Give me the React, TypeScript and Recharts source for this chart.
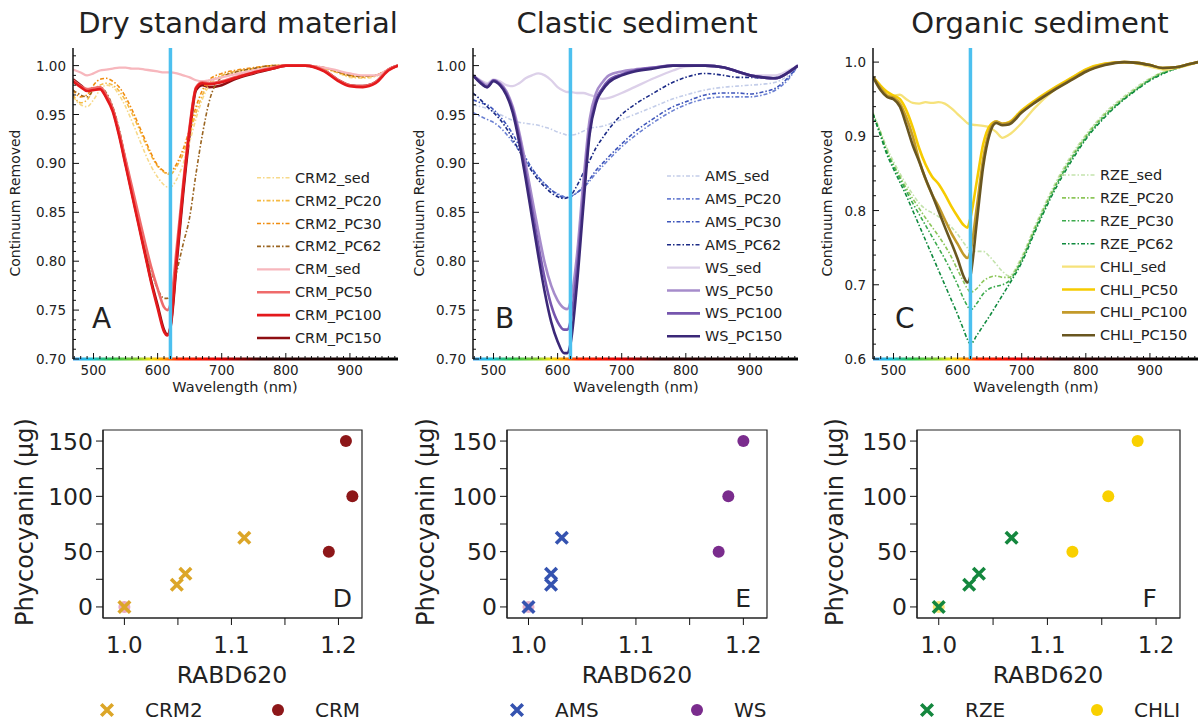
import React from 'react';
import {
  LineChart,
  Line,
  XAxis,
  YAxis,
  ReferenceLine,
  ReferenceArea,
  ScatterChart,
  Scatter,
  Cell,
} from 'recharts';

const FONT = '"DejaVu Sans", Verdana, sans-serif';
const INK = '#222';
const DASH = '4 2 1.5 2';

// wavelength grid (nm) shared by every spectrum
const WAVELENGTH = [468, 480, 490, 500, 510, 520, 530, 540, 550, 560, 570, 580, 590, 600, 610, 615, 620, 630, 640, 650, 660, 670, 680, 700, 720, 750, 780, 800, 830, 860, 880, 900, 920, 940, 960, 975];

// A - dry standard material
const CRM2_SED = [0.968, 0.960, 0.958, 0.965, 0.975, 0.980, 0.978, 0.970, 0.958, 0.943, 0.927, 0.911, 0.897, 0.886, 0.878, 0.876, 0.876, 0.884, 0.900, 0.922, 0.946, 0.966, 0.979, 0.989, 0.993, 0.997, 1.000, 1.000, 1.000, 0.997, 0.993, 0.988, 0.987, 0.989, 0.995, 1.000];
const CRM2_PC20 = [0.970, 0.962, 0.965, 0.975, 0.980, 0.982, 0.980, 0.974, 0.964, 0.951, 0.937, 0.922, 0.908, 0.897, 0.891, 0.889, 0.889, 0.897, 0.910, 0.930, 0.952, 0.970, 0.982, 0.990, 0.994, 0.997, 1.000, 1.000, 1.000, 0.997, 0.993, 0.989, 0.988, 0.990, 0.996, 1.000];
const CRM2_PC30 = [0.975, 0.968, 0.970, 0.980, 0.986, 0.987, 0.984, 0.978, 0.968, 0.955, 0.940, 0.925, 0.910, 0.898, 0.892, 0.890, 0.891, 0.900, 0.915, 0.935, 0.958, 0.975, 0.985, 0.992, 0.995, 0.998, 1.000, 1.000, 1.000, 0.998, 0.994, 0.990, 0.989, 0.990, 0.996, 1.000];
const CRM2_PC62 = [0.975, 0.970, 0.968, 0.975, 0.978, 0.972, 0.958, 0.935, 0.905, 0.875, 0.845, 0.815, 0.790, 0.772, 0.762, 0.762, 0.765, 0.790, 0.818, 0.845, 0.890, 0.930, 0.962, 0.988, 0.993, 0.997, 1.000, 1.000, 1.000, 0.998, 0.994, 0.990, 0.989, 0.990, 0.996, 1.000];
const CRM_SED = [0.996, 0.993, 0.990, 0.992, 0.995, 0.996, 0.997, 0.998, 0.998, 0.997, 0.997, 0.996, 0.995, 0.994, 0.993, 0.993, 0.993, 0.992, 0.990, 0.988, 0.985, 0.984, 0.985, 0.988, 0.991, 0.995, 0.998, 1.000, 1.000, 0.998, 0.995, 0.992, 0.990, 0.990, 0.996, 1.000];
const CRM_PC50 = [0.985, 0.979, 0.976, 0.977, 0.978, 0.970, 0.956, 0.932, 0.904, 0.876, 0.848, 0.820, 0.794, 0.772, 0.753, 0.750, 0.756, 0.815, 0.880, 0.938, 0.978, 0.983, 0.982, 0.984, 0.988, 0.993, 0.998, 1.000, 1.000, 0.995, 0.986, 0.980, 0.979, 0.983, 0.996, 1.000];
const CRM_PC100 = [0.984, 0.978, 0.974, 0.975, 0.976, 0.967, 0.953, 0.928, 0.898, 0.868, 0.838, 0.808, 0.778, 0.752, 0.728, 0.724, 0.733, 0.805, 0.875, 0.935, 0.977, 0.982, 0.981, 0.983, 0.987, 0.993, 0.997, 1.000, 1.000, 0.994, 0.985, 0.979, 0.978, 0.982, 0.995, 1.000];
const CRM_PC150 = [0.986, 0.980, 0.975, 0.976, 0.977, 0.968, 0.955, 0.930, 0.900, 0.870, 0.840, 0.810, 0.780, 0.755, 0.730, 0.725, 0.732, 0.800, 0.870, 0.930, 0.975, 0.980, 0.978, 0.980, 0.986, 0.992, 0.997, 1.000, 1.000, 0.995, 0.986, 0.980, 0.979, 0.983, 0.996, 1.000];

// B - clastic sediment
const AMS_SED = [0.960, 0.958, 0.956, 0.953, 0.950, 0.947, 0.944, 0.942, 0.941, 0.940, 0.939, 0.937, 0.935, 0.932, 0.930, 0.929, 0.929, 0.930, 0.933, 0.936, 0.937, 0.938, 0.940, 0.945, 0.950, 0.958, 0.966, 0.970, 0.975, 0.978, 0.979, 0.980, 0.981, 0.983, 0.990, 1.000];
const AMS_PC20 = [0.952, 0.948, 0.945, 0.942, 0.937, 0.930, 0.922, 0.913, 0.903, 0.894, 0.886, 0.879, 0.873, 0.869, 0.866, 0.865, 0.866, 0.870, 0.875, 0.882, 0.890, 0.897, 0.904, 0.917, 0.928, 0.942, 0.954, 0.960, 0.966, 0.968, 0.968, 0.968, 0.970, 0.975, 0.986, 1.000];
const AMS_PC30 = [0.965, 0.962, 0.960, 0.955, 0.948, 0.940, 0.930, 0.918, 0.906, 0.895, 0.886, 0.879, 0.873, 0.868, 0.865, 0.865, 0.866, 0.870, 0.876, 0.884, 0.893, 0.900, 0.907, 0.920, 0.932, 0.946, 0.958, 0.963, 0.970, 0.972, 0.972, 0.971, 0.973, 0.977, 0.988, 1.000];
const AMS_PC62 = [0.972, 0.965, 0.958, 0.952, 0.945, 0.936, 0.925, 0.913, 0.902, 0.892, 0.883, 0.876, 0.870, 0.866, 0.864, 0.865, 0.867, 0.877, 0.890, 0.903, 0.916, 0.926, 0.935, 0.950, 0.960, 0.972, 0.983, 0.988, 0.992, 0.990, 0.988, 0.988, 0.987, 0.988, 0.994, 1.000];
const WS_SED = [0.990, 0.985, 0.982, 0.986, 0.984, 0.980, 0.979, 0.982, 0.987, 0.990, 0.992, 0.990, 0.985, 0.978, 0.974, 0.973, 0.973, 0.972, 0.972, 0.970, 0.968, 0.966, 0.967, 0.972, 0.978, 0.987, 0.995, 0.999, 1.000, 0.998, 0.994, 0.990, 0.990, 0.990, 0.995, 1.000];
const WS_PC50 = [0.990, 0.984, 0.980, 0.985, 0.982, 0.974, 0.958, 0.932, 0.900, 0.865, 0.830, 0.798, 0.775, 0.760, 0.752, 0.751, 0.758, 0.805, 0.880, 0.945, 0.972, 0.983, 0.990, 0.994, 0.996, 0.998, 1.000, 1.000, 1.000, 0.998, 0.994, 0.990, 0.988, 0.987, 0.993, 1.000];
const WS_PC100 = [0.990, 0.983, 0.978, 0.985, 0.981, 0.972, 0.955, 0.927, 0.892, 0.854, 0.816, 0.782, 0.755, 0.738, 0.730, 0.730, 0.738, 0.790, 0.865, 0.935, 0.965, 0.977, 0.985, 0.991, 0.995, 0.998, 1.000, 1.000, 1.000, 0.998, 0.994, 0.990, 0.988, 0.987, 0.993, 1.000];
const WS_PC150 = [0.990, 0.982, 0.978, 0.984, 0.980, 0.970, 0.952, 0.922, 0.885, 0.845, 0.805, 0.768, 0.738, 0.718, 0.706, 0.706, 0.715, 0.775, 0.855, 0.930, 0.962, 0.975, 0.983, 0.990, 0.994, 0.997, 1.000, 1.000, 1.000, 0.998, 0.994, 0.990, 0.988, 0.987, 0.993, 1.000];

// C - organic sediment
const RZE_SED = [0.932, 0.906, 0.884, 0.866, 0.850, 0.835, 0.822, 0.810, 0.802, 0.797, 0.792, 0.786, 0.778, 0.768, 0.756, 0.750, 0.745, 0.745, 0.745, 0.738, 0.728, 0.718, 0.712, 0.738, 0.778, 0.833, 0.878, 0.902, 0.932, 0.954, 0.967, 0.978, 0.987, 0.993, 0.997, 1.000];
const RZE_PC20 = [0.930, 0.904, 0.880, 0.862, 0.846, 0.830, 0.816, 0.803, 0.790, 0.778, 0.766, 0.753, 0.738, 0.720, 0.703, 0.695, 0.690, 0.695, 0.705, 0.710, 0.712, 0.710, 0.710, 0.735, 0.775, 0.830, 0.875, 0.900, 0.930, 0.952, 0.965, 0.977, 0.986, 0.992, 0.997, 1.000];
const RZE_PC30 = [0.930, 0.902, 0.878, 0.860, 0.843, 0.826, 0.810, 0.795, 0.780, 0.765, 0.750, 0.735, 0.718, 0.700, 0.680, 0.672, 0.666, 0.675, 0.688, 0.695, 0.698, 0.700, 0.705, 0.733, 0.773, 0.828, 0.873, 0.898, 0.928, 0.951, 0.964, 0.976, 0.985, 0.991, 0.996, 1.000];
const RZE_PC62 = [0.930, 0.900, 0.875, 0.856, 0.838, 0.820, 0.800, 0.780, 0.760, 0.740, 0.720, 0.700, 0.680, 0.660, 0.638, 0.627, 0.620, 0.632, 0.645, 0.658, 0.672, 0.686, 0.700, 0.730, 0.770, 0.825, 0.870, 0.896, 0.926, 0.950, 0.963, 0.975, 0.984, 0.991, 0.996, 1.000];
const CHLI_SED = [0.980, 0.968, 0.958, 0.955, 0.956, 0.950, 0.945, 0.944, 0.946, 0.945, 0.946, 0.944, 0.938, 0.930, 0.922, 0.918, 0.916, 0.915, 0.914, 0.912, 0.906, 0.898, 0.902, 0.918, 0.938, 0.962, 0.980, 0.990, 0.998, 1.000, 0.998, 0.994, 0.990, 0.992, 0.996, 1.000];
const CHLI_PC50 = [0.980, 0.968, 0.960, 0.955, 0.950, 0.935, 0.912, 0.884, 0.862, 0.846, 0.836, 0.822, 0.806, 0.792, 0.780, 0.777, 0.790, 0.840, 0.890, 0.914, 0.920, 0.917, 0.919, 0.935, 0.948, 0.965, 0.980, 0.990, 0.998, 1.000, 0.999, 0.996, 0.992, 0.993, 0.997, 1.000];
const CHLI_PC100 = [0.980, 0.965, 0.955, 0.952, 0.944, 0.925, 0.900, 0.868, 0.842, 0.822, 0.806, 0.788, 0.770, 0.755, 0.740, 0.736, 0.745, 0.805, 0.870, 0.908, 0.920, 0.917, 0.918, 0.933, 0.946, 0.963, 0.978, 0.988, 0.997, 1.000, 0.999, 0.996, 0.992, 0.993, 0.997, 1.000];
const CHLI_PC150 = [0.980, 0.962, 0.953, 0.950, 0.940, 0.915, 0.888, 0.866, 0.843, 0.822, 0.800, 0.778, 0.757, 0.735, 0.710, 0.703, 0.712, 0.785, 0.860, 0.903, 0.918, 0.915, 0.916, 0.932, 0.945, 0.962, 0.977, 0.987, 0.996, 1.000, 0.999, 0.996, 0.992, 0.993, 0.997, 1.000];

// D/E/F - RABD620 vs added phycocyanin
const PC_LOW = [0, 20, 30, 62.5];
const PC_HIGH = [0, 50, 100, 150];
const CRM2_RABD = [1.0, 1.049, 1.057, 1.112];
const CRM_RABD = [1.0, 1.191, 1.213, 1.207];
const AMS_RABD = [1.0, 1.021, 1.021, 1.031];
const WS_RABD = [1.0, 1.177, 1.186, 1.2];
const RZE_RABD = [1.0, 1.028, 1.037, 1.067];
const CHLI_RABD = [1.0, 1.123, 1.156, 1.183];

type Spec = { name: string; values: number[]; color: string; width: number; dash?: boolean; z?: number };

const SERIES_A: Spec[] = [
  { name: 'CRM2_sed', values: CRM2_SED, color: '#f7d98a', width: 1.6, dash: true },
  { name: 'CRM2_PC20', values: CRM2_PC20, color: '#f5b942', width: 1.6, dash: true },
  { name: 'CRM2_PC30', values: CRM2_PC30, color: '#f08c0f', width: 1.6, dash: true },
  { name: 'CRM2_PC62', values: CRM2_PC62, color: '#9a6420', width: 1.6, dash: true },
  { name: 'CRM_sed', values: CRM_SED, color: '#f7b7bd', width: 2.3 },
  { name: 'CRM_PC50', values: CRM_PC50, color: '#ef6b6b', width: 2.6 },
  { name: 'CRM_PC100', values: CRM_PC100, color: '#e4191c', width: 2.6 },
  { name: 'CRM_PC150', values: CRM_PC150, color: '#8e0f12', width: 2.6, z: -1 },
];
const SERIES_B: Spec[] = [
  { name: 'AMS_sed', values: AMS_SED, color: '#c3cde9', width: 1.6, dash: true },
  { name: 'AMS_PC20', values: AMS_PC20, color: '#6b80d2', width: 1.6, dash: true },
  { name: 'AMS_PC30', values: AMS_PC30, color: '#3f56bb', width: 1.6, dash: true },
  { name: 'AMS_PC62', values: AMS_PC62, color: '#1b2a86', width: 1.6, dash: true },
  { name: 'WS_sed', values: WS_SED, color: '#dcd0e9', width: 2.3 },
  { name: 'WS_PC50', values: WS_PC50, color: '#a68ccb', width: 2.6 },
  { name: 'WS_PC100', values: WS_PC100, color: '#7656ae', width: 2.6 },
  { name: 'WS_PC150', values: WS_PC150, color: '#3b2878', width: 2.6 },
];
const SERIES_C: Spec[] = [
  { name: 'RZE_sed', values: RZE_SED, color: '#c4e3ad', width: 1.6, dash: true },
  { name: 'RZE_PC20', values: RZE_PC20, color: '#8dc65a', width: 1.6, dash: true },
  { name: 'RZE_PC30', values: RZE_PC30, color: '#3caa4d', width: 1.6, dash: true },
  { name: 'RZE_PC62', values: RZE_PC62, color: '#0f8a3e', width: 1.6, dash: true },
  { name: 'CHLI_sed', values: CHLI_SED, color: '#f6e27a', width: 2.3 },
  { name: 'CHLI_PC50', values: CHLI_PC50, color: '#f6cb00', width: 2.6 },
  { name: 'CHLI_PC100', values: CHLI_PC100, color: '#c39a2a', width: 2.6 },
  { name: 'CHLI_PC150', values: CHLI_PC150, color: '#695620', width: 2.6 },
];

const makeTicks = (from: number, to: number, step: number) => {
  const out: number[] = [];
  for (let v = from; v <= to + 1e-9; v += step) out.push(Math.round(v * 1000) / 1000);
  return out;
};
const isIn = (v: number, list: number[]) => list.some(m => Math.abs(m - v) < 1e-6);

// top row layout
const SW = 410;
const SH = 350;
const S_MARGIN = { top: 8, right: 12, left: 0, bottom: 0 };
const WL_DOMAIN: [number, number] = [468, 975];
const WL_MAJOR = [500, 600, 700, 800, 900];
const WL_TICKS = makeTicks(470, 970, 10);

function SpectrumPanel(props: {
  id: string;
  left: number;
  series: Spec[];
  yDomain: [number, number];
  yStep: number;
  yMajorStep: number;
  digits: number;
}) {
  const { id, left, series, yDomain, yStep, yMajorStep, digits } = props;
  const data = WAVELENGTH.map((w, i) => {
    const row: Record<string, number> = { wl: w };
    series.forEach(s => {
      row[s.name] = s.values[i];
    });
    return row;
  });
  const drawn = series
    .map((s, i) => ({ s, i }))
    .sort((a, b) => (a.s.z ?? 0) - (b.s.z ?? 0) || a.i - b.i)
    .map(d => d.s);
  const yTicks = makeTicks(yDomain[0], yDomain[1], yStep);
  const yMajor = makeTicks(yDomain[0], 1.0, yMajorStep);
  const strip = ((yDomain[1] - yDomain[0]) / 311) * 1.6;

  const bottomTick = (p: any) => {
    const v = p.payload.value;
    const major = isIn(v, WL_MAJOR);
    return (
      <g>
        <line x1={p.x} x2={p.x} y1={p.y} y2={p.y - (major ? 6 : 3)} stroke="#111" strokeWidth={1} />
        {major && (
          <text x={p.x} y={p.y + 16} textAnchor="middle" fontSize={13.5} fill={INK} fontFamily={FONT}>
            {v}
          </text>
        )}
      </g>
    );
  };
  const topTick = (p: any) => {
    const major = isIn(p.payload.value, WL_MAJOR);
    return <line x1={p.x} x2={p.x} y1={p.y} y2={p.y + (major ? 6 : 3)} stroke="#111" strokeWidth={1} />;
  };
  const leftTick = (p: any) => {
    const v = p.payload.value;
    const major = isIn(v, yMajor);
    return (
      <g>
        <line x1={p.x} x2={p.x + (major ? 6 : 3)} y1={p.y} y2={p.y} stroke="#111" strokeWidth={1} />
        {major && (
          <text x={p.x - 7} y={p.y + 5} textAnchor="end" fontSize={13.5} fill={INK} fontFamily={FONT}>
            {v.toFixed(digits)}
          </text>
        )}
      </g>
    );
  };
  const rightTick = (p: any) => {
    const major = isIn(p.payload.value, yMajor);
    return <line x1={p.x} x2={p.x - (major ? 6 : 3)} y1={p.y} y2={p.y} stroke="#111" strokeWidth={1} />;
  };

  return (
    <div style={{ position: 'absolute', left, top: 40, width: SW, height: SH }}>
      <LineChart width={SW} height={SH} data={data} margin={S_MARGIN}>
        <defs>
          <linearGradient id={`spec-${id}`} x1="0" x2="1" y1="0" y2="0">
            <stop offset="0" stopColor="#3aa0f0" />
            <stop offset="0.05" stopColor="#20c0e0" />
            <stop offset="0.12" stopColor="#2fbf4a" />
            <stop offset="0.2" stopColor="#8fd030" />
            <stop offset="0.24" stopColor="#f4e010" />
            <stop offset="0.28" stopColor="#ff9a00" />
            <stop offset="0.32" stopColor="#ff2a00" />
            <stop offset="0.45" stopColor="#e00000" />
            <stop offset="0.58" stopColor="#300000" />
            <stop offset="1" stopColor="#000" />
          </linearGradient>
        </defs>
        <XAxis
          xAxisId="b"
          dataKey="wl"
          type="number"
          domain={WL_DOMAIN}
          allowDataOverflow
          ticks={WL_TICKS}
          interval={0}
          tickSize={0}
          tickMargin={0}
          tickLine={false}
          axisLine={false}
          height={31}
          tick={bottomTick}
        />
        <XAxis
          xAxisId="t"
          orientation="top"
          type="number"
          domain={WL_DOMAIN}
          allowDataOverflow
          ticks={WL_TICKS}
          interval={0}
          tickSize={0}
          tickMargin={0}
          tickLine={false}
          axisLine={{ stroke: '#111', strokeWidth: 1.5 }}
          height={0}
          tick={topTick}
        />
        <YAxis
          yAxisId="l"
          type="number"
          domain={yDomain}
          allowDataOverflow
          ticks={yTicks}
          interval={0}
          tickSize={0}
          tickMargin={0}
          tickLine={false}
          axisLine={{ stroke: '#111', strokeWidth: 1.5 }}
          width={73}
          tick={leftTick}
        />
        <YAxis
          yAxisId="r"
          orientation="right"
          type="number"
          domain={yDomain}
          allowDataOverflow
          ticks={yTicks}
          interval={0}
          tickSize={0}
          tickMargin={0}
          tickLine={false}
          axisLine={{ stroke: '#111', strokeWidth: 1.5 }}
          width={0}
          tick={rightTick}
        />
        {drawn.map(s => (
          <Line
            key={s.name}
            xAxisId="b"
            yAxisId="l"
            type="monotone"
            dataKey={s.name}
            stroke={s.color}
            strokeWidth={s.width}
            strokeDasharray={s.dash ? DASH : undefined}
            dot={false}
            isAnimationActive={false}
          />
        ))}
        <ReferenceLine xAxisId="b" yAxisId="l" x={620} stroke="#4cc0ef" strokeWidth={3.5} />
        <ReferenceArea
          xAxisId="b"
          yAxisId="l"
          x1={WL_DOMAIN[0]}
          x2={WL_DOMAIN[1]}
          y1={yDomain[0] - strip}
          y2={yDomain[0] + strip}
          ifOverflow="visible"
          fill={`url(#spec-${id})`}
          fillOpacity={1}
          stroke="none"
        />
      </LineChart>
    </div>
  );
}

// bottom row layout
const PH = 250;
const P_DOMAIN_X: [number, number] = [0.98, 1.222];
const P_DOMAIN_Y: [number, number] = [-10, 160];
const P_TICKS_X = [1.0, 1.05, 1.1, 1.15, 1.2];
const P_MAJOR_X = [1.0, 1.1, 1.2];
const P_TICKS_Y = [0, 25, 50, 75, 100, 125, 150];
const P_MAJOR_Y = [0, 50, 100, 150];

const XMark = (p: any) => {
  const r = 4.5;
  const { cx, cy, fill } = p;
  return (
    <path
      d={`M${cx - r},${cy - r}L${cx + r},${cy + r}M${cx - r},${cy + r}L${cx + r},${cy - r}`}
      stroke={fill}
      strokeWidth={3.6}
      strokeLinecap="square"
    />
  );
};
const Dot = (p: any) => <circle cx={p.cx} cy={p.cy} r={6} fill={p.fill} />;

function RabdPanel(props: {
  left: number;
  width: number;
  xRabd: number[];
  xColor: string;
  cRabd: number[];
  cColor: string;
  sedColor: string;
}) {
  const { left, width, xRabd, xColor, cRabd, cColor, sedColor } = props;
  const crosses = xRabd.map((x, i) => ({ x, y: PC_LOW[i] }));
  const dots = cRabd.map((x, i) => ({ x, y: PC_HIGH[i] }));

  const bottomTick = (p: any) => {
    const v = p.payload.value;
    return (
      <g>
        <line x1={p.x} x2={p.x} y1={p.y} y2={p.y + 7} stroke="#111" strokeWidth={1} />
        {isIn(v, P_MAJOR_X) && (
          <text x={p.x} y={p.y + 35} textAnchor="middle" fontSize={23} fill={INK} fontFamily={FONT}>
            {v.toFixed(1)}
          </text>
        )}
      </g>
    );
  };
  const leftTick = (p: any) => {
    const v = p.payload.value;
    return (
      <g>
        <line x1={p.x} x2={p.x - 7} y1={p.y} y2={p.y} stroke="#111" strokeWidth={1} />
        {isIn(v, P_MAJOR_Y) && (
          <text x={p.x - 10} y={p.y + 8.5} textAnchor="end" fontSize={23.5} fill={INK} fontFamily={FONT}>
            {v}
          </text>
        )}
      </g>
    );
  };

  return (
    <div style={{ position: 'absolute', left, top: 420, width, height: PH }}>
      <ScatterChart width={width} height={PH} margin={{ top: 10, right: 10, left: 0, bottom: 0 }}>
        <XAxis
          dataKey="x"
          type="number"
          domain={P_DOMAIN_X}
          allowDataOverflow
          ticks={P_TICKS_X}
          interval={0}
          tickSize={0}
          tickMargin={0}
          tickLine={false}
          axisLine={{ stroke: '#222', strokeWidth: 1.2 }}
          height={52}
          tick={bottomTick}
        />
        <XAxis
          xAxisId="t"
          orientation="top"
          type="number"
          domain={P_DOMAIN_X}
          allowDataOverflow
          tick={false}
          tickLine={false}
          axisLine={{ stroke: '#222', strokeWidth: 1.2 }}
          height={0}
        />
        <YAxis
          dataKey="y"
          type="number"
          domain={P_DOMAIN_Y}
          allowDataOverflow
          ticks={P_TICKS_Y}
          interval={0}
          tickSize={0}
          tickMargin={0}
          tickLine={false}
          axisLine={{ stroke: '#222', strokeWidth: 1.2 }}
          width={103}
          tick={leftTick}
        />
        <YAxis
          yAxisId="r"
          orientation="right"
          type="number"
          domain={P_DOMAIN_Y}
          allowDataOverflow
          tick={false}
          tickLine={false}
          axisLine={{ stroke: '#222', strokeWidth: 1.2 }}
          width={0}
        />
        <ReferenceArea
          x1={P_DOMAIN_X[0]}
          x2={P_DOMAIN_X[1]}
          y1={P_DOMAIN_Y[0]}
          y2={P_DOMAIN_Y[1]}
          fill="none"
          fillOpacity={0}
          stroke="#222"
          strokeWidth={1.2}
        />
        <Scatter data={dots} fill={cColor} shape={Dot} isAnimationActive={false}>
          {dots.map((d, i) => (
            <Cell key={i} fill={i === 0 ? sedColor : cColor} />
          ))}
        </Scatter>
        <Scatter data={crosses} fill={xColor} shape={XMark} isAnimationActive={false} />
      </ScatterChart>
    </div>
  );
}

const txt = { fontFamily: FONT, fill: INK } as const;

function Overlay() {
  const titles = [
    { x: 238, label: 'Dry standard material' },
    { x: 637, label: 'Clastic sediment' },
    { x: 1040, label: 'Organic sediment' },
  ];
  const specCols = [
    { yLabel: 15, mid: 235, letter: 'A', lx: 92, legX: 257, legY: 177.7, series: SERIES_A },
    { yLabel: 419, mid: 636, letter: 'B', lx: 495, legX: 667, legY: 176, series: SERIES_B },
    { yLabel: 827, mid: 1036, letter: 'C', lx: 895, legX: 1062, legY: 175, series: SERIES_C },
  ];
  const rabdCols = [
    { yLabel: 25, mid: 232, letter: 'D', lx: 352, xs: 107, xName: 'CRM2', xColor: '#dca628', cs: 278, cName: 'CRM', cColor: '#8d1719' },
    { yLabel: 426, mid: 637, letter: 'E', lx: 751, xs: 517, xName: 'AMS', xColor: '#3553b0', cs: 697, cName: 'WS', cColor: '#7a2c8d' },
    { yLabel: 835, mid: 1048, letter: 'F', lx: 1157, xs: 927, xName: 'RZE', xColor: '#14873e', cs: 1097, cName: 'CHLI', cColor: '#f9d000' },
  ];
  return (
    <svg width={1203} height={721} style={{ position: 'absolute', left: 0, top: 0, pointerEvents: 'none' }}>
      {titles.map(t => (
        <text key={t.label} x={t.x} y={33} fontSize={29} textAnchor="middle" {...txt}>
          {t.label}
        </text>
      ))}
      {specCols.map(c => (
        <g key={c.letter}>
          <text
            x={c.yLabel}
            y={203}
            fontSize={14}
            textAnchor="middle"
            dominantBaseline="central"
            transform={`rotate(-90 ${c.yLabel} 203)`}
            {...txt}
          >
            Continuum Removed
          </text>
          <text x={c.mid} y={392} fontSize={14.5} textAnchor="middle" {...txt}>
            Wavelength (nm)
          </text>
          <text x={c.lx} y={328} fontSize={28} {...txt}>
            {c.letter}
          </text>
          {c.series.map((s, i) => {
            const y = c.legY + i * 22.9;
            return (
              <g key={s.name}>
                <line
                  x1={c.legX}
                  x2={c.legX + 33}
                  y1={y}
                  y2={y}
                  stroke={s.color}
                  strokeWidth={s.width}
                  strokeDasharray={s.dash ? DASH : undefined}
                />
                <text x={c.legX + 38} y={y + 5} fontSize={14.5} {...txt}>
                  {s.name}
                </text>
              </g>
            );
          })}
        </g>
      ))}
      {rabdCols.map(c => (
        <g key={c.letter}>
          <text
            x={c.yLabel}
            y={522}
            fontSize={24}
            textAnchor="middle"
            dominantBaseline="central"
            transform={`rotate(-90 ${c.yLabel} 522)`}
            {...txt}
          >
            Phycocyanin (µg)
          </text>
          <text x={c.mid} y={683} fontSize={23.5} textAnchor="middle" {...txt}>
            RABD620
          </text>
          <text x={c.lx} y={607} fontSize={25} textAnchor="end" {...txt}>
            {c.letter}
          </text>
          <XMark cx={c.xs} cy={710} fill={c.xColor} />
          <text x={c.xs + 38} y={717} fontSize={20} {...txt}>
            {c.xName}
          </text>
          <circle cx={c.cs} cy={710} r={6} fill={c.cColor} />
          <text x={c.cs + 37} y={717} fontSize={20} {...txt}>
            {c.cName}
          </text>
        </g>
      ))}
    </svg>
  );
}

export default function App() {
  return (
    <div style={{ position: 'absolute', left: 0, top: 0, width: 1203, height: 721, background: '#fff', fontFamily: FONT }}>
      <SpectrumPanel id="a" left={0} series={SERIES_A} yDomain={[0.7, 1.018]} yStep={0.01} yMajorStep={0.05} digits={2} />
      <SpectrumPanel id="b" left={400} series={SERIES_B} yDomain={[0.7, 1.018]} yStep={0.01} yMajorStep={0.05} digits={2} />
      <SpectrumPanel id="c" left={800} series={SERIES_C} yDomain={[0.6, 1.019]} yStep={0.02} yMajorStep={0.1} digits={1} />
      <RabdPanel left={0} width={372} xRabd={CRM2_RABD} xColor="#dca628" cRabd={CRM_RABD} cColor="#8d1719" sedColor="#e9a9c0" />
      <RabdPanel left={404} width={373} xRabd={AMS_RABD} xColor="#3553b0" cRabd={WS_RABD} cColor="#7a2c8d" sedColor="#e4b1cc" />
      <RabdPanel left={814} width={376} xRabd={RZE_RABD} xColor="#14873e" cRabd={CHLI_RABD} cColor="#f9d000" sedColor="#fbe57a" />
      <Overlay />
    </div>
  );
}
